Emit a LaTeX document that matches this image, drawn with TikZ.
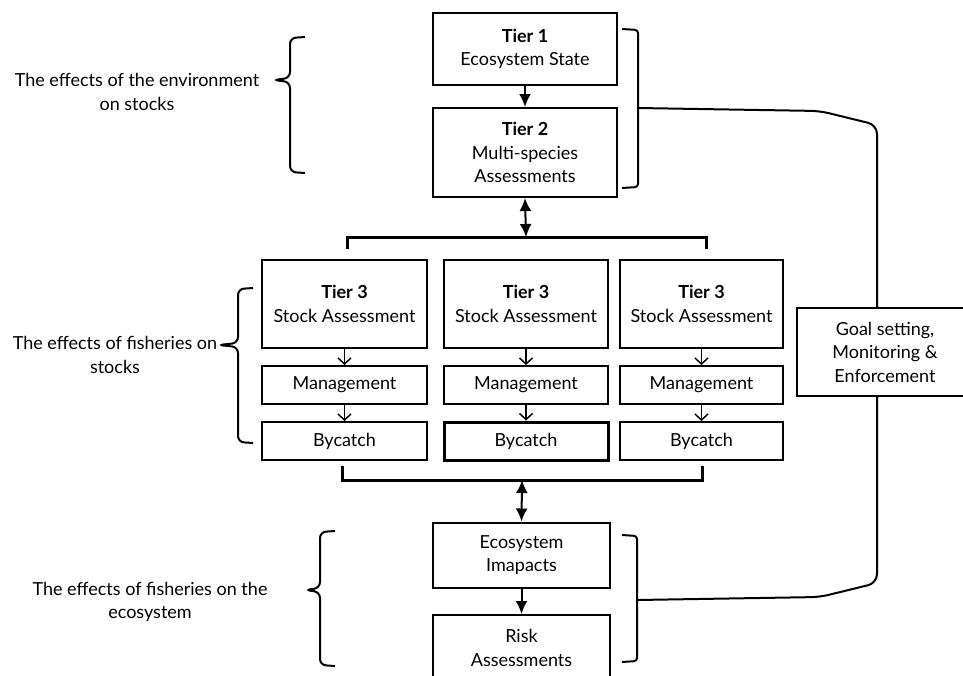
\documentclass[tikz,border=0pt]{standalone}
\usepackage{fontspec}
\setmainfont{Lato}
\usetikzlibrary{arrows.meta, calc}

\begin{document}
\begin{tikzpicture}[x=1pt, y=-1pt,
            box/.style={draw=black, line width=2pt, align=center, inner sep=0pt, font=\fontsize{18}{23.5}\selectfont},
            lbl/.style={align=center, inner sep=0pt, font=\fontsize{18}{23.5}\selectfont},
            ar/.style={line width=2pt, -{Latex[length=13pt, width=12pt]}},
            dar/.style={line width=2pt, {Latex[length=13pt, width=12pt]}-{Latex[length=13pt, width=12pt]}},
            sar/.style={line width=1.5pt, -{Straight Barb[length=6pt, width=13pt, line width=1.5pt]}},
            bar/.style={line width=3pt},
            brk/.style={line width=2pt, rounded corners=3pt},
            brc/.style={line width=2pt, rounded corners=6pt},
            lnk/.style={line width=2pt, rounded corners=9pt}]
            \useasboundingbox (0,0) rectangle (963,675);
            \clip (0,0) rectangle (963,675);
            % central column
            \node[box, minimum width=184pt, minimum height=72pt] (t1) at (525,49) {\textbf{Tier 1}\\Ecosystem State};
            \node[box, minimum width=184pt, minimum height=89pt] (t2) at (525,152.5) {\textbf{Tier 2}\\Multi-species\\Assessments};
            \foreach \n/\x/\w/\lw in {a/344.5/165/2pt, b/526/164/3pt, c/701.5/163/2pt} {
                \node[box, minimum width=\w pt, minimum height=88pt] (s\n) at (\x,304) {\textbf{Tier 3}\\Stock Assessment};
                \node[box, minimum width=\w pt, minimum height=38pt] (m\n) at (\x,385) {Management};
                \node[box, line width=\lw, minimum width=\w pt, minimum height=38pt] (b\n) at (\x,441) {Bycatch};
                \draw[sar] (s\n) -- (m\n);
                \draw[sar] (m\n) -- (b\n);
            }
            \node[box, minimum width=177pt, minimum height=65pt] (eco) at (521.5,555) {Ecosystem\\Imapacts};
            \node[box, minimum width=177pt, minimum height=66pt] (risk) at (521.5,648) {Risk\\Assessments};
            \node[box, minimum width=176pt, minimum height=88pt] (goal) at (885,352) {Goal setting,\\Monitoring \&\\Enforcement};
            % arrows and bars
            \draw[ar] (t1) -- (t2);
            \draw[bar] (347,249) -- (347,237) -- (706,237) -- (706,249);
            \coordinate (top) at (526,237);
            \draw[dar] (t2.south) -- (top);
            \draw[bar] (342,466) -- (342,480) -- (702,480) -- (702,466);
            \coordinate (bot) at (522,480);
            \draw[dar] (bot) -- (eco.north);
            \draw[ar] (eco) -- (risk);
            % right brackets and links
            \draw[brk] (622,29) -- (638,30) -- (638,187) -- (622,188);
            \draw[brk] (622,535) -- (637,536) -- (637,661) -- (622,662);
            \coordinate (rb1) at (638,108);
            \coordinate (rb3) at (637,600);
            \draw[lnk] (rb1) -- (820,111) -- (877,125) -- ($(goal.north)+(-8,0)$);
            \draw[lnk] (rb3) -- (820,597) -- (877,583) -- ($(goal.south)+(-8,0)$);
            % left braces
            \draw[brc] (305,37) -- (290,38) -- (290,78) -- (273,80) -- (290,82) -- (290,172) -- (305,173);
            \draw[brc] (253,288) -- (238,289) -- (238,343) -- (218,345) -- (238,347) -- (238,442) -- (253,443);
            \draw[brc] (335,531) -- (320,532) -- (320,588) -- (305,590) -- (320,592) -- (320,665) -- (335,666);
            \node[lbl] (env) at (137,92) {The effects of the environment\\on stocks};
            \node[lbl] (fst) at (115,355) {The effects of fisheries on\\stocks};
            \node[lbl] (fec) at (150,602) {The effects of fisheries on the\\ecosystem};
        \end{tikzpicture}
\end{document}
